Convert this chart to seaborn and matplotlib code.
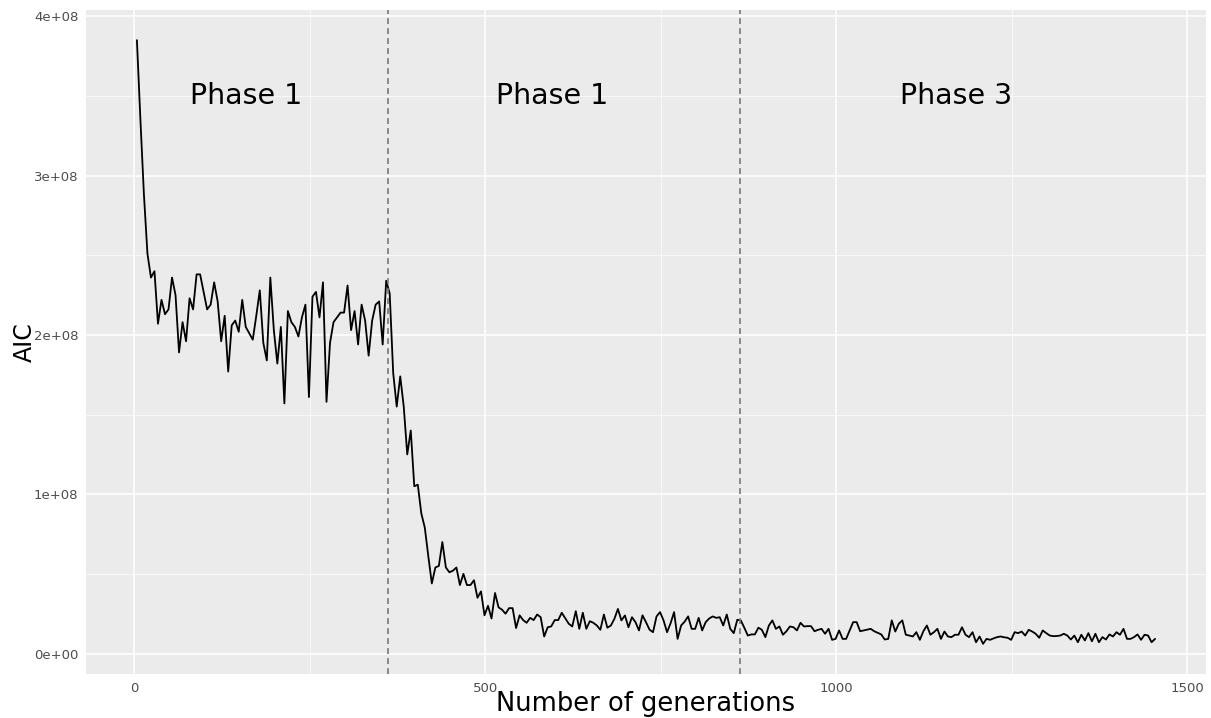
import matplotlib
matplotlib.use("Agg")
import matplotlib.pyplot as plt
import seaborn as sns
import pandas as pd
import numpy as np

# AIC values (in millions), one every 5 generations
fase1 = [385, 335, 288, 251, 236, 240, 207, 222, 213, 216, 236, 225, 189, 208, 196, 223, 216, 238, 238, 227,
         216, 219, 233, 221, 196, 212, 177, 206, 209, 202, 222, 205, 201, 197, 212, 228, 195, 184, 236, 203,
         182, 205, 157, 215, 208, 205, 199, 211, 219, 161, 224, 227, 211, 233, 158, 195, 208, 211, 214, 214,
         231, 203, 215, 194, 219, 209, 187, 209, 219, 221, 194, 234, 226]
fase2 = [176, 155, 174, 155, 125, 140, 105, 106, 88, 79, 61, 44, 54, 55, 70, 54, 51, 52, 54, 43,
         50, 43, 43, 46, 35, 39, 24, 30, 22, 38, 29, 27.5, 25, 28.5, 28.5, 16, 24, 21, 19.3, 22.4,
         21, 24.5, 22.8, 10.7, 16.5, 17, 21, 21, 25.6, 22.2, 18.7, 17, 26.6, 15.5, 25.6, 15.5, 20.3, 19.3, 17.6, 14.9,
         24.5, 16.2, 17.6, 21.8, 28, 20.8, 23.9, 16.5, 22.8, 19.7, 14.5, 24, 19.7, 15, 13.4, 23.3, 26, 20.8, 13.4, 19,
         26, 9.2, 17.6, 20, 23.3, 15.5, 15.5, 22.4, 14.5, 19.7, 22, 23.3, 22.4, 22.8, 17.6, 24.5, 15.5, 12.8, 21.2, 20.8]
fase3 = [16.2, 11.3, 12, 12, 16.2, 14.9, 10.3, 17.6, 20.8, 15.5, 17, 11.8, 14, 17, 16.5, 14.5, 19.3, 17, 17.2, 17.2,
         14, 14.9, 15.5, 12.4, 15.5, 8.6, 9.2, 14.5, 9.2, 9.2, 14.5, 19.7, 19.7, 14, 14.5, 15, 15.5, 14, 13, 12,
         8.8, 9.2, 20.8, 13.8, 18.7, 20.8, 11.8, 11.3, 10.7, 13.4, 8.6, 14, 17.6, 11.8, 13.4, 15.5, 9.2, 13.8, 10.7, 10.3,
         11.8, 11.8, 16.5, 11.8, 10.3, 13.4, 7.1, 10.7, 6.1, 9.2, 8.6, 9.5, 10.3, 10.7, 10.2, 9.9, 8.6, 13.4, 12.8, 13.8,
         11.3, 14.9, 13.8, 12.4, 9.9, 14.5, 12.8, 11.3, 10.9, 11, 11.3, 12.4, 11.3, 8.8, 11.3, 7.1, 11.8, 8.2, 12.8, 7.7,
         12.4, 7.1, 10.3, 8.8, 12, 10.7, 13.4, 11.8, 15.5, 9.2, 9.2, 10.3, 12, 8.6, 11.8, 11.3, 7.1, 9.2]

aic = np.array(fase1 + fase2 + fase3) * 1e6
generaciones = 4 + 5 * np.arange(len(aic))
df = pd.DataFrame({'gen': generaciones, 'AIC': aic})

cortes = [362, 863]
etiquetas = ['Phase 1', 'Phase 1', 'Phase 3']
pos_etiquetas = [160, 595, 1170]

sns.set_theme(style='darkgrid', rc={
    'axes.facecolor': '#EBEBEB',
    'grid.color': 'white',
    'axes.edgecolor': '#EBEBEB',
    'xtick.color': '#333333',
    'ytick.color': '#333333',
})
plt.rcParams['font.family'] = ['DejaVu Sans']

fig = plt.figure(figsize=(12.11, 7.18), dpi=100)
ax = fig.add_axes([86 / 1211, 44 / 718, 1120 / 1211, 664 / 718])

sns.lineplot(data=df, x='gen', y='AIC', color='black', linewidth=1.3, estimator=None, ax=ax)

for c in cortes:
    ax.axvline(c, color='#777777', linestyle=(0, (3.5, 2.5)), linewidth=1.2)
for x, t in zip(pos_etiquetas, etiquetas):
    ax.text(x, 3.5e8, t, fontsize=20.5, ha='center', va='center', color='black')

# expansion estilo ggplot
rx = df.gen.max() - df.gen.min()
ry = df.AIC.max() - df.AIC.min()
ax.set_xlim(df.gen.min() - 0.05 * rx, df.gen.max() + 0.05 * rx)
ax.set_ylim(df.AIC.min() - 0.05 * ry, df.AIC.max() + 0.05 * ry)

ax.set_xticks([0, 500, 1000, 1500])
ax.set_xticks([250, 750, 1250], minor=True)
ax.set_yticks([0, 1e8, 2e8, 3e8, 4e8])
ax.set_yticks([0.5e8, 1.5e8, 2.5e8, 3.5e8], minor=True)
ax.set_yticklabels([f'{v:.0e}' for v in [0, 1e8, 2e8, 3e8, 4e8]])
ax.grid(which='major', color='white', linewidth=1.1)
ax.grid(which='minor', color='white', linewidth=0.5)
ax.tick_params(which='major', length=3.5, width=0.9, labelsize=9.5, labelcolor='#4D4D4D', pad=2)
ax.tick_params(which='minor', length=0)
for s in ax.spines.values():
    s.set_visible(False)

ax.set_xlabel('Number of generations', fontsize=18.5, labelpad=-2.5, color='black')
ax.set_ylabel('AIC', fontsize=17, labelpad=-2, color='black')

fig.savefig('out.png', dpi=100, facecolor='white')
